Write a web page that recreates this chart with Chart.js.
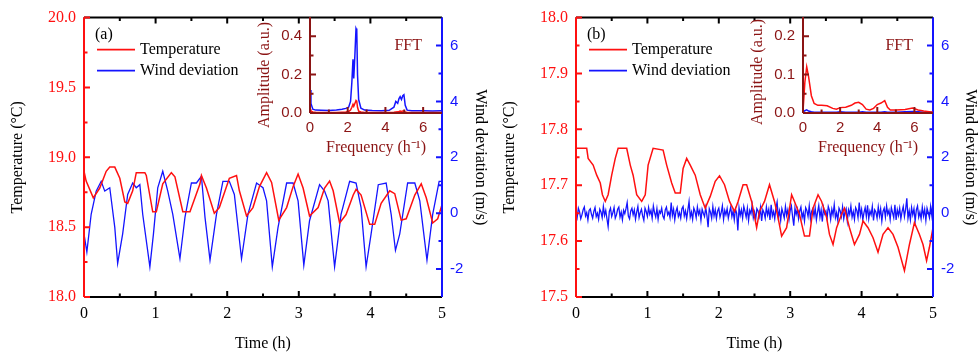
<!DOCTYPE html>
<html>
<head>
<meta charset="utf-8">
<script src="https://cdn.jsdelivr.net/npm/chart.js@4.4.1/dist/chart.umd.min.js"></script>
<style>
    html, body { margin: 0; padding: 0; background: #fff; }
    #figure { position: relative; width: 980px; height: 355px; }
    #figure canvas { position: absolute; top: 0; }
</style>
</head>
<body>
<div id="figure">
    <canvas id="mainA" width="490" height="355" style="left:0"></canvas>
    <canvas id="fftA" width="190" height="158" style="left:252px"></canvas>
    <canvas id="mainB" width="490" height="355" style="left:490px"></canvas>
    <canvas id="fftB" width="188" height="158" style="left:745px"></canvas>
</div>
<script>
/*global Chart*/

// ---- panel (a): with wind ----
var tempTimeA = [0, 0.03, 0.13, 0.22, 0.31, 0.36, 0.43, 0.50, 0.57, 0.61, 0.68, 0.73, 0.85, 0.87, 0.96, 1.01,
    1.10, 1.22, 1.27, 1.38, 1.48, 1.62, 1.64, 1.71, 1.82, 1.89, 2.03, 2.13, 2.17, 2.27, 2.36, 2.45, 2.55, 2.62,
    2.72, 2.83, 2.92, 2.99, 3.06, 3.15, 3.27, 3.36, 3.43, 3.48, 3.57, 3.66, 3.76, 3.80, 3.87, 3.99, 4.06, 4.15,
    4.27, 4.34, 4.43, 4.50, 4.62, 4.71, 4.78, 4.87, 4.94, 5.00];
var tempA = [18.90, 18.83, 18.71, 18.78, 18.90, 18.93, 18.93, 18.85, 18.68, 18.67, 18.76, 18.89, 18.89, 18.87,
    18.61, 18.61, 18.81, 18.89, 18.86, 18.61, 18.61, 18.81, 18.87, 18.78, 18.60, 18.64, 18.85, 18.87, 18.76,
    18.58, 18.64, 18.79, 18.89, 18.82, 18.55, 18.64, 18.79, 18.88, 18.78, 18.58, 18.64, 18.78, 18.83, 18.76,
    18.53, 18.59, 18.73, 18.77, 18.73, 18.52, 18.52, 18.67, 18.76, 18.74, 18.55, 18.56, 18.73, 18.81, 18.71,
    18.53, 18.56, 18.66];
var windTimeA = [0, 0.04, 0.10, 0.17, 0.24, 0.29, 0.36, 0.43, 0.47, 0.54, 0.61, 0.68, 0.73, 0.78, 0.82, 0.92,
    0.97, 1.03, 1.10, 1.17, 1.24, 1.34, 1.41, 1.50, 1.57, 1.64, 1.69, 1.76, 1.85, 1.94, 2.03, 2.10, 2.20, 2.29,
    2.41, 2.50, 2.55, 2.63, 2.71, 2.83, 2.92, 2.99, 3.07, 3.15, 3.29, 3.36, 3.41, 3.50, 3.59, 3.71, 3.80, 3.87,
    3.94, 4.01, 4.11, 4.22, 4.29, 4.35, 4.41, 4.52, 4.62, 4.69, 4.79, 4.87, 4.96, 5.00];
var windA = [-0.74, -1.39, -0.04, 0.79, 1.14, 0.79, 0.91, -0.51, -1.80, -0.74, 0.67, 1.08, 0.91, 1.02, -0.04,
    -1.92, -0.74, 0.91, 1.50, 0.79, -0.04, -1.63, -0.15, 1.08, 1.08, 1.32, -0.15, -1.68, -0.04, 1.14, 1.14, 0.67,
    -1.63, -0.04, 1.08, 0.91, 0.44, -1.92, -0.51, 1.08, 1.08, 0.44, -1.86, -0.27, 1.02, 0.79, 0.44, -1.92, -0.04,
    1.14, 1.08, 0.20, -1.92, -0.74, 1.02, 1.08, -0.04, -1.33, -0.74, 1.08, 1.08, 0.44, -1.68, -0.04, 1.14, 1.14];

var freqA = [0, 0.05, 0.15, 0.3, 0.6, 1.0, 1.4, 1.7, 1.9, 2.05, 2.15, 2.22, 2.28, 2.32, 2.38, 2.44, 2.48, 2.52,
    2.58, 2.7, 2.9, 3.3, 3.8, 4.2, 4.45, 4.55, 4.65, 4.72, 4.78, 4.85, 4.92, 4.98, 5.05, 5.15, 5.4, 6.0, 6.5, 7.0];
var fftWindA = [0.12, 0.05, 0.02, 0.015, 0.014, 0.013, 0.016, 0.02, 0.024, 0.03, 0.06, 0.16, 0.28, 0.18, 0.30,
    0.44, 0.43, 0.20, 0.07, 0.025, 0.015, 0.013, 0.012, 0.014, 0.03, 0.06, 0.05, 0.075, 0.085, 0.07, 0.09, 0.095,
    0.04, 0.015, 0.012, 0.012, 0.01, 0.012];
var fftTempA = [0.02, 0.01, 0.005, 0.004, 0.003, 0.003, 0.003, 0.004, 0.005, 0.008, 0.015, 0.03, 0.045, 0.035,
    0.05, 0.065, 0.06, 0.03, 0.01, 0.005, 0.003, 0.003, 0.003, 0.003, 0.004, 0.005, 0.006, 0.008, 0.01, 0.008,
    0.01, 0.01, 0.006, 0.003, 0.003, 0.002, 0.002, 0.002];

// ---- panel (b): no wind ----
var tempTimeB = [0, 0.15, 0.17, 0.24, 0.29, 0.34, 0.37, 0.41, 0.45, 0.50, 0.55, 0.59, 0.71, 0.76, 0.80, 0.85,
    0.92, 0.97, 1.01, 1.08, 1.22, 1.27, 1.34, 1.39, 1.46, 1.50, 1.55, 1.60, 1.67, 1.74, 1.81, 1.88, 1.95, 2.01,
    2.08, 2.15, 2.22, 2.27, 2.34, 2.39, 2.46, 2.53, 2.57, 2.64, 2.71, 2.78, 2.83, 2.88, 2.95, 3.02, 3.06, 3.13,
    3.20, 3.27, 3.32, 3.39, 3.44, 3.51, 3.55, 3.60, 3.65, 3.72, 3.76, 3.83, 3.90, 3.97, 4.02, 4.09, 4.16, 4.23,
    4.30, 4.37, 4.44, 4.51, 4.60, 4.67, 4.74, 4.81, 4.86, 4.91, 4.95, 5.00];
var tempB = [17.766, 17.766, 17.748, 17.736, 17.718, 17.704, 17.683, 17.671, 17.683, 17.718, 17.748, 17.766,
    17.766, 17.736, 17.718, 17.683, 17.671, 17.683, 17.736, 17.766, 17.763, 17.736, 17.704, 17.686, 17.686,
    17.730, 17.748, 17.736, 17.718, 17.683, 17.659, 17.680, 17.707, 17.717, 17.701, 17.671, 17.653, 17.671,
    17.701, 17.701, 17.671, 17.624, 17.653, 17.671, 17.701, 17.671, 17.642, 17.609, 17.624, 17.683, 17.671,
    17.648, 17.609, 17.609, 17.659, 17.683, 17.671, 17.642, 17.612, 17.594, 17.624, 17.648, 17.659, 17.624,
    17.594, 17.612, 17.636, 17.624, 17.606, 17.580, 17.612, 17.624, 17.612, 17.589, 17.547, 17.594, 17.633,
    17.612, 17.594, 17.565, 17.589, 17.624];
// wind logged once a minute
var windStepB = 1 / 60;
var windB = [
    0.08, -0.14, 0.18, 0.05, -0.20, -0.06, 0.12, 0.22, -0.10, 0.02, -0.24, 0.10, 0.16, -0.04, -0.18, 0.06, 0.20, -0.12, 0.00, -0.22,
    0.14, 0.04, -0.16, 0.24, -0.08, 0.10, -0.20, -0.48, 0.06, 0.18, -0.12, 0.02, 0.20, -0.18, -0.06, 0.14, 0.22, -0.14, 0.04, -0.24,
    0.10, -0.02, 0.16, 0.38, -0.10, -0.20, 0.08, 0.18, -0.06, 0.12, -0.22, 0.04, 0.24, -0.16, 0.02, 0.14, -0.10, -0.26, 0.18, 0.06,
    -0.12, 0.20, -0.04, 0.10, -0.18, 0.26, 0.02, -0.14, 0.16, -0.22, 0.08, 0.00, 0.18, -0.10, -0.20, 0.12, 0.22, -0.06, 0.04, -0.16,
    0.38, -0.08, 0.14, -0.24, 0.06, 0.20, -0.12, 0.02, -0.18, 0.16, 0.24, -0.10, 0.08, -0.20, 0.12, 0.42, -0.14, 0.04, -0.22, 0.18,
    0.06, -0.16, 0.22, -0.04, 0.10, -0.26, 0.14, 0.00, -0.12, 0.20, -0.08, -0.50, 0.16, 0.04, -0.18, 0.24, -0.10, 0.12, -0.20, 0.08,
    0.18, -0.14, 0.02, 0.26, -0.22, 0.10, -0.06, 0.16, -0.18, 0.04, 0.22, -0.12, 0.08, -0.24, 0.14, 0.00, -0.62, 0.20, -0.08, 0.12,
    -0.18, 0.24, 0.06, -0.14, 0.18, -0.26, 0.10, -0.02, 0.28, -0.16, 0.04, -0.22, 0.16, 0.08, -0.12, 0.20, -0.28, 0.12, 0.02, -0.18,
    0.22, -0.06, 0.14, -0.24, 0.30, -0.10, 0.06, -0.20, 0.18, 0.40, -0.14, 0.08, -0.26, 0.16, 0.00, -0.18, 0.24, -0.08, 0.12, -0.22,
    0.10, 0.26, -0.12, -0.45, 0.18, -0.04, 0.14, -0.20, 0.08, 0.22, -0.16, 0.02, -0.28, 0.20, 0.10, -0.12, 0.26, -0.20, 0.06, 0.16,
    -0.10, 0.18, -0.24, 0.04, 0.28, -0.14, 0.12, -0.30, 0.20, -0.02, 0.08, -0.18, 0.24, 0.10, -0.22, 0.14, -0.06, 0.30, -0.16, 0.02,
    -0.26, 0.18, 0.08, -0.12, 0.22, -0.20, 0.04, 0.16, -0.28, 0.12, -0.04, 0.26, -0.14, 0.06, -0.22, 0.20, 0.10, -0.16, 0.38, -0.08,
    0.14, -0.24, 0.02, 0.20, -0.12, 0.28, -0.20, 0.08, -0.06, 0.24, -0.26, 0.12, 0.04, -0.18, 0.22, -0.10, 0.16, -0.28, 0.06, 0.18,
    -0.14, 0.26, -0.04, 0.10, -0.22, 0.20, 0.02, -0.16, 0.30, -0.24, 0.12, -0.08, 0.18, -0.20, 0.06, 0.24, -0.12, 0.14, 0.53, -0.18,
    0.08, -0.24, 0.20, -0.06, 0.16, -0.28, 0.12, 0.26, -0.14, 0.04, -0.20, 0.22, -0.10, 0.14, -0.26, 0.18, 0.02, -0.16, 0.24, -0.08,
    0.46];

var freqB = [0, 0.1, 0.2, 0.3, 0.45, 0.6, 0.8, 1.0, 1.3, 1.6, 1.8, 2.0, 2.3, 2.6, 2.8, 3.0, 3.2, 3.4, 3.6, 3.8,
    4.0, 4.2, 4.4, 4.55, 4.7, 5.0, 5.5, 5.9, 6.2, 6.5, 7.0];
var fftTempB = [0.005, 0.08, 0.12, 0.095, 0.045, 0.025, 0.02, 0.02, 0.019, 0.012, 0.01, 0.014, 0.015, 0.02,
    0.026, 0.028, 0.022, 0.01, 0.008, 0.012, 0.022, 0.026, 0.032, 0.015, 0.008, 0.008, 0.009, 0.013, 0.008,
    0.005, 0.002];
var fftWindB = [0.002, 0.006, 0.008, 0.005, 0.003, 0.002, 0.002, 0.002, 0.002, 0.002, 0.002, 0.003, 0.002,
    0.002, 0.002, 0.002, 0.003, 0.002, 0.002, 0.002, 0.002, 0.002, 0.003, 0.002, 0.002, 0.002, 0.003, 0.004,
    0.003, 0.002, 0.002];

// ---- axis ticks ----
var timeTicks = [0, 1, 2, 3, 4, 5], timeMinor = [0.5, 1.5, 2.5, 3.5, 4.5];
var tempTicksA = [18.0, 18.5, 19.0, 19.5, 20.0], tempMinorA = [18.25, 18.75, 19.25, 19.75];
var tempTicksB = [17.5, 17.6, 17.7, 17.8, 17.9, 18.0], tempMinorB = [17.55, 17.65, 17.75, 17.85, 17.95];
var windTicks = [-2, 0, 2, 4, 6], windMinor = [-1, 1, 3, 5];
var freqTicks = [0, 2, 4, 6], freqMinor = [1, 3, 5];
var ampTicksA = [0, 0.2, 0.4], ampMinorA = [0.1, 0.3];
var ampTicksB = [0, 0.1, 0.2], ampMinorB = [0.05, 0.15];

var RED = "#ff1010", BLUE = "#1414ff", DARKRED = "#8b1414";
var SERIF = "'Liberation Serif', 'Times New Roman', serif";
var SANS = "'Liberation Sans', Arial, sans-serif";

Chart.defaults.font.family = SERIF;
Chart.defaults.font.size = 16;
Chart.defaults.color = "#000";

function pairs(xs, ys) {
    return ys.map(function (y, i) { return {x: xs[i], y: y}; });
}

function fixedTicks(values) {
    return function (scale) {
        scale.ticks = values.map(function (v) { return {value: v}; });
    };
}

// inward tick marks and axis lines, Origin style
var axisFrame = {
    id: "axisFrame",
    afterDatasetsDraw: function (chart, args, opts) {
        var ctx = chart.ctx, a = chart.chartArea;
        ctx.save();
        ctx.lineWidth = 2;
        opts.sides.forEach(function (s) {
            var scale = chart.scales[s.scale];
            var tick = function (v, len) {
                var p = scale.getPixelForValue(v);
                if (s.edge === "left") { ctx.moveTo(a.left, p); ctx.lineTo(a.left + len, p); }
                if (s.edge === "right") { ctx.moveTo(a.right, p); ctx.lineTo(a.right - len, p); }
                if (s.edge === "bottom") { ctx.moveTo(p, a.bottom); ctx.lineTo(p, a.bottom - len); }
                if (s.edge === "top") { ctx.moveTo(p, a.top); ctx.lineTo(p, a.top + len); }
            };
            ctx.strokeStyle = s.color;
            ctx.beginPath();
            if (s.edge === "left") { ctx.moveTo(a.left, a.top); ctx.lineTo(a.left, a.bottom); }
            if (s.edge === "right") { ctx.moveTo(a.right, a.top); ctx.lineTo(a.right, a.bottom); }
            if (s.edge === "bottom") { ctx.moveTo(a.left, a.bottom); ctx.lineTo(a.right, a.bottom); }
            if (s.edge === "top") { ctx.moveTo(a.left, a.top); ctx.lineTo(a.right, a.top); }
            s.major.forEach(function (v) { tick(v, 6); });
            s.minor.forEach(function (v) { tick(v, 3.5); });
            ctx.stroke();
        });
        ctx.restore();
    }
};

// panel tag, in-plot legend, FFT label and the inset's vertical title
var panelText = {
    id: "panelText",
    afterDraw: function (chart, args, opts) {
        var ctx = chart.ctx, a = chart.chartArea;
        ctx.save();
        ctx.font = "16px " + SERIF;
        ctx.textBaseline = "middle";
        (opts.labels || []).forEach(function (l) {
            ctx.fillStyle = l.color;
            ctx.textAlign = l.align;
            ctx.fillText(l.text, (l.align === "right" ? a.right : a.left) + l.dx, a.top + l.dy);
        });
        if (opts.sideTitle) {
            ctx.save();
            ctx.translate(opts.sideTitle.x, opts.sideTitle.y);
            ctx.rotate(-Math.PI / 2);
            ctx.textAlign = "center";
            ctx.fillStyle = opts.sideTitle.color;
            ctx.fillText(opts.sideTitle.text, 0, 0);
            ctx.restore();
        }
        if (opts.legend) {
            ctx.textAlign = "left";
            chart.data.datasets.forEach(function (ds, i) {
                var y = a.top + 32 + i * 21;
                ctx.strokeStyle = ds.borderColor;
                ctx.lineWidth = 1.6;
                ctx.beginPath();
                ctx.moveTo(a.left + 13, y);
                ctx.lineTo(a.left + 51, y);
                ctx.stroke();
                ctx.fillStyle = "#000";
                ctx.fillText(ds.label, a.left + 56, y);
            });
        }
        ctx.restore();
    }
};

function mainChart(id, tag, temp, tempRange, tempTicks, tempMinor, wind, leftWidth, rightWidth, titlePad) {
    return new Chart(document.getElementById(id), {
        type: "line",
        data: {
            datasets: [
                {label: "Temperature", data: temp, borderColor: RED, borderWidth: 1.5, yAxisID: "y"},
                {label: "Wind deviation", data: wind, borderColor: BLUE, borderWidth: 1.3, yAxisID: "y2"}
            ]
        },
        plugins: [axisFrame, panelText],
        options: {
            responsive: false,
            animation: false,
            events: [],
            layout: {padding: {top: 14, left: 0, right: 0, bottom: 0}},
            elements: {point: {radius: 0}, line: {tension: 0}},
            plugins: {
                legend: {display: false},
                tooltip: {enabled: false},
                axisFrame: {sides: [
                    {scale: "x", edge: "bottom", color: "#000", major: timeTicks, minor: timeMinor},
                    {scale: "x", edge: "top", color: "#000", major: timeTicks, minor: timeMinor},
                    {scale: "y", edge: "left", color: RED, major: tempTicks, minor: tempMinor},
                    {scale: "y2", edge: "right", color: BLUE, major: windTicks, minor: windMinor}
                ]},
                panelText: {legend: true, labels: [{text: tag, color: "#000", align: "left", dx: 11, dy: 17}]}
            },
            scales: {
                x: {
                    type: "linear", min: 0, max: 5,
                    afterBuildTicks: fixedTicks(timeTicks),
                    afterFit: function (s) { s.height = 58; },
                    grid: {display: false, drawTicks: false}, border: {display: false},
                    ticks: {padding: 7, maxRotation: 0, color: "#000"},
                    title: {display: true, text: "Time (h)", color: "#000", padding: {top: 0, bottom: 2}}
                },
                y: {
                    position: "left", min: tempRange[0], max: tempRange[1],
                    afterBuildTicks: fixedTicks(tempTicks),
                    afterFit: function (s) { s.width = leftWidth; },
                    grid: {display: false, drawTicks: false}, border: {display: false},
                    ticks: {padding: 8, color: RED, callback: function (v) { return v.toFixed(1); }},
                    title: {display: true, text: "Temperature (\u00b0C)", color: "#000", padding: {top: titlePad, bottom: 0}}
                },
                y2: {
                    position: "right", min: -3, max: 7,
                    afterBuildTicks: fixedTicks(windTicks),
                    afterFit: function (s) { s.width = rightWidth; },
                    grid: {display: false, drawTicks: false}, border: {display: false},
                    ticks: {padding: 8, color: BLUE, font: {family: SANS, size: 15}},
                    title: {display: true, text: "Wind deviation (m/s)", color: "#000", padding: {top: 0, bottom: 0}}
                }
            }
        }
    });
}

function fftChart(id, temp, wind, ampMax, ampTicks, ampMinor, titleY) {
    return new Chart(document.getElementById(id), {
        type: "line",
        data: {
            datasets: [
                {label: "Temperature", data: temp, borderColor: RED, borderWidth: 1.5},
                {label: "Wind deviation", data: wind, borderColor: BLUE, borderWidth: 1.5}
            ]
        },
        plugins: [axisFrame, panelText],
        options: {
            responsive: false,
            animation: false,
            events: [],
            layout: {padding: {top: 14, left: 0, right: 0, bottom: 0}},
            elements: {point: {radius: 0}, line: {tension: 0}},
            plugins: {
                legend: {display: false},
                tooltip: {enabled: false},
                axisFrame: {sides: [
                    {scale: "x", edge: "bottom", color: DARKRED, major: freqTicks, minor: freqMinor},
                    {scale: "y", edge: "left", color: DARKRED, major: ampTicks, minor: ampMinor}
                ]},
                panelText: {
                    labels: [{text: "FFT", color: DARKRED, align: "right", dx: -20, dy: 29}],
                    sideTitle: {text: "Amplitude (a.u.)", color: DARKRED, x: 13, y: titleY}
                }
            },
            scales: {
                x: {
                    type: "linear", min: 0, max: 7,
                    afterBuildTicks: fixedTicks(freqTicks),
                    afterFit: function (s) { s.height = 45; },
                    grid: {display: false, drawTicks: false}, border: {display: false},
                    ticks: {padding: 6, maxRotation: 0, color: DARKRED, font: {family: SANS, size: 15}},
                    title: {display: true, text: "Frequency (h\u207b\u00b9)", color: DARKRED, padding: {top: 0, bottom: 1}}
                },
                y: {
                    position: "left", min: 0, max: ampMax,
                    afterBuildTicks: fixedTicks(ampTicks),
                    afterFit: function (s) { s.width = 58; },
                    grid: {display: false, drawTicks: false}, border: {display: false},
                    ticks: {padding: 8, color: DARKRED, font: {family: SANS, size: 15},
                        callback: function (v) { return v.toFixed(1); }}
                }
            }
        }
    });
}

var windPointsB = windB.map(function (v, i) { return {x: i * windStepB, y: v}; });

mainChart("mainA", "(a)", pairs(tempTimeA, tempA), [18, 20], tempTicksA, tempMinorA,
    pairs(windTimeA, windA), 84, 48, 8);
fftChart("fftA", pairs(freqA, fftTempA), pairs(freqA, fftWindA), 0.5, ampTicksA, ampMinorA, 75);

mainChart("mainB", "(b)", pairs(tempTimeB, tempB), [17.5, 18], tempTicksB, tempMinorB,
    windPointsB, 86, 47, 10);
fftChart("fftB", pairs(freqB, fftTempB), pairs(freqB, fftWindB), 0.25, ampTicksB, ampMinorB, 72);
</script>
</body>
</html>
